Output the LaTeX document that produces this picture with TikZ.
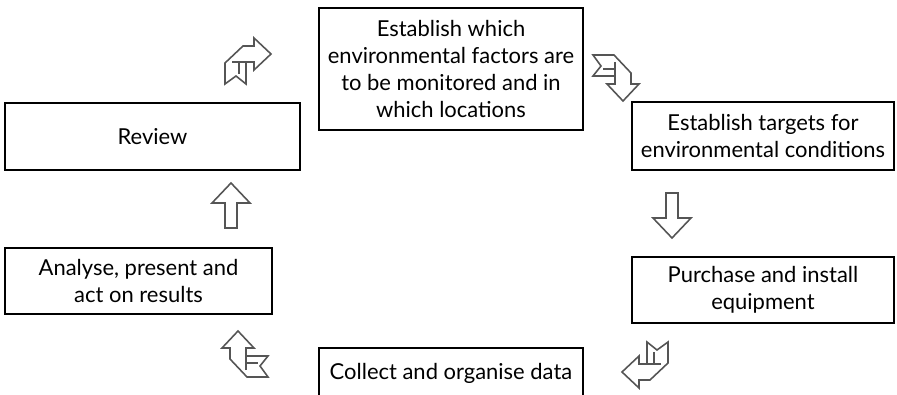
\documentclass[tikz,border=0pt]{standalone}
\usepackage{fontspec}
\setmainfont{Lato}
\usepackage{xcolor}
\usepackage{tikz}

\definecolor{arrowgray}{HTML}{555555}
\newcommand\stagefont{\fontsize{12.5}{15.2}\selectfont}

\tikzset{
    stagebox/.style={
        draw,
        line width=0.8pt,
        align=center,
        inner sep=0pt,
        font=\stagefont
    },
    arrowline/.style={
        draw=arrowgray,
        line width=0.9pt,
        line join=miter
    },
    % folded ribbon arrow, head to the right, tail down
    ribbonarrow/.pic={
        \draw[arrowline] (-23,23) -- (-23,2) -- (-5,-15) -- (6,-15) -- (6,-23)
            -- (23,-7) -- (6,9) -- (6,1) -- (-2,1) -- (-2,23) -- (-12,15) -- cycle;
        \draw[arrowline] (-16,1) -- (-2,1) (-9,1) -- (-9,13);
    },
    % straight block arrow, pointing up
    blockarrow/.pic={
        \draw[arrowline] (0,-23) -- (19,-3) -- (6,-3) -- (6,22) -- (-6,22)
            -- (-6,-3) -- (-19,-3) -- cycle;
    }
}

\begin{document}
\begin{tikzpicture}[x=0.02cm, y=-0.02cm]
    \useasboundingbox (0,0) rectangle (897,395);
    \clip (0,0) rectangle (897,395);

    % stages of the cycle
    \node[stagebox, minimum width=5.28cm, minimum height=2.44cm] (monitor) at (451,69)
        {Establish which\\environmental factors are\\to be monitored and in\\which locations};
    \node[stagebox, minimum width=5.24cm, minimum height=1.36cm] (targets) at (763,136)
        {Establish targets for\\environmental conditions};
    \node[stagebox, minimum width=5.24cm, minimum height=1.32cm] (purchase) at (763,290)
        {Purchase and install\\equipment};
    \node[stagebox, minimum width=5.28cm, minimum height=1.0cm] (collect) at (451,373)
        {Collect and organise data};
    \node[stagebox, minimum width=5.34cm, minimum height=1.32cm] (analyse) at (138.5,281)
        {Analyse, present and\\act on results};
    \node[stagebox, minimum width=5.9cm, minimum height=1.34cm] (review) at (152.5,136.5)
        {Review};

    % arrows between the stages
    \pic at (248,61) {ribbonarrow};
    \pic[rotate=-90] at (616,78) {ribbonarrow};
    \pic[rotate=180] at (672,215) {blockarrow};
    \pic[rotate=180] at (645,365) {ribbonarrow};
    \pic[rotate=90] at (245,354) {ribbonarrow};
    \pic at (231,206) {blockarrow};
\end{tikzpicture}
\end{document}
